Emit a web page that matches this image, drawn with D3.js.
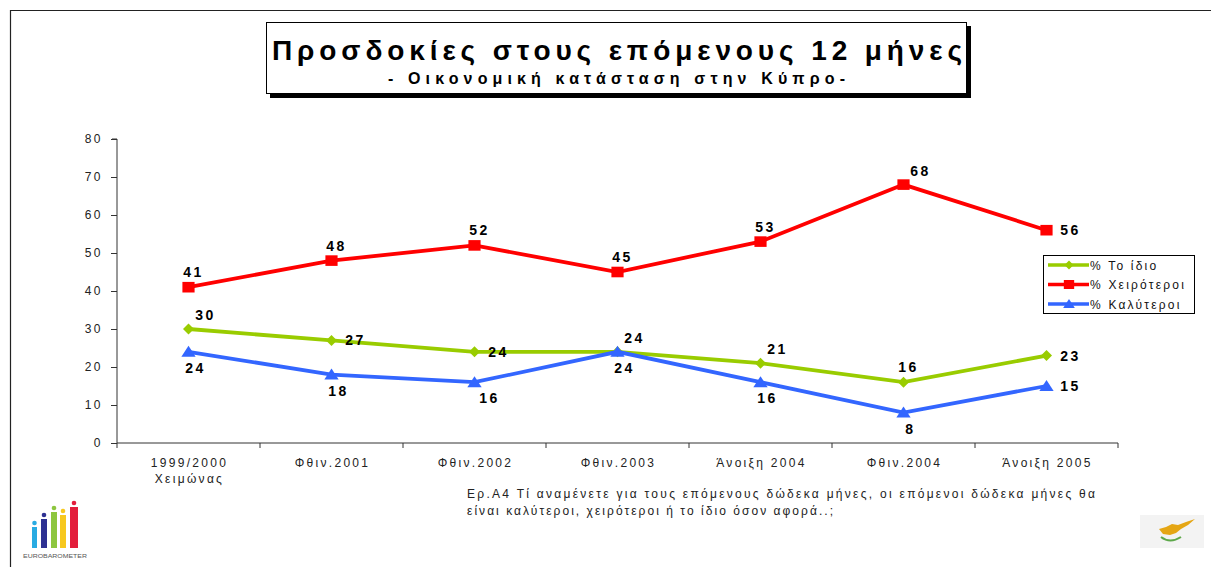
<!DOCTYPE html>
<html>
<head>
<meta charset="utf-8">
<script src="https://cdn.jsdelivr.net/npm/d3@7"></script>
<style>
  body { margin: 0; background: #fff; }
  svg { font-family: "Liberation Sans", Arial, sans-serif; }
</style>
</head>
<body>
<svg id="chart" width="1211" height="567"></svg>
<script>
var categories = ["1999/2000|Χειμώνας", "Φθιν.2001", "Φθιν.2002", "Φθιν.2003", "Άνοιξη 2004", "Φθιν.2004", "Άνοιξη 2005"];
var yTicks = [0, 10, 20, 30, 40, 50, 60, 70, 80];

var sameValues = [30, 27, 24, 24, 21, 16, 23];
var worseValues = [41, 48, 52, 45, 53, 68, 56];
var betterValues = [24, 18, 16, 24, 16, 8, 15];

var seriesNames = ["% Το ίδιο", "% Χειρότεροι", "% Καλύτεροι"];

// where each value label sits next to its point
var sameLabelPos = ["aboveRight", "right", "right", "aboveRight", "aboveRight", "above", "right"];
var worseLabelPos = ["above", "above", "above", "above", "above", "aboveRight", "right"];
var betterLabelPos = ["below", "below", "belowRight", "below", "below", "below", "right"];

var svg = d3.select("#chart");

// outer frame
svg.append("path")
    .attr("d", "M10.5,567 L10.5,10.5 L1211,10.5")
    .attr("fill", "none")
    .attr("stroke", "#222")
    .attr("stroke-width", 1.2);

// title box with shadow
svg.append("rect").attr("x", 270).attr("y", 26).attr("width", 701).attr("height", 72).attr("fill", "#000");
svg.append("rect").attr("x", 266.5).attr("y", 22.5).attr("width", 700).attr("height", 71)
    .attr("fill", "#fff").attr("stroke", "#000").attr("stroke-width", 1);
svg.append("text")
    .attr("x", 272).attr("y", 60)
    .attr("textLength", 690).attr("lengthAdjust", "spacing")
    .attr("font-size", 28).attr("font-weight", "bold")
    .text("Προσδοκίες στους επόμενους 12 μήνες");
svg.append("text")
    .attr("x", 388).attr("y", 84)
    .attr("textLength", 457).attr("lengthAdjust", "spacing")
    .attr("font-size", 16).attr("font-weight", "bold")
    .text("- Οικονομική κατάσταση στην Κύπρο-");

var plotLeft = 117, plotRight = 1118, plotTop = 139, plotBottom = 443;

var x = d3.scaleBand().domain(categories).range([plotLeft, plotRight]);
var y = d3.scaleLinear().domain([0, 80]).range([plotBottom, plotTop]);
var cx = function(i) { return x(categories[i]) + x.bandwidth() / 2; };

// y axis
var yAxis = svg.append("g")
    .attr("transform", "translate(" + plotLeft + ",0)")
    .call(d3.axisLeft(y).tickValues(yTicks).tickSize(6).tickPadding(8));
yAxis.select(".domain").attr("stroke", "#333").attr("d", "M-5," + plotTop + "H0V" + plotBottom);
yAxis.selectAll(".tick line").attr("stroke", "#333");
yAxis.selectAll("text")
    .attr("font-size", 12).attr("fill", "#222")
    .attr("font-family", "Liberation Sans, Arial, sans-serif")
    .style("letter-spacing", "2.5px");

// x axis
var xAxis = svg.append("g")
    .attr("transform", "translate(0," + plotBottom + ")")
    .call(d3.axisBottom(x).tickSize(0).tickFormat(""));
xAxis.select(".domain").attr("stroke", "#333").attr("d", "M" + plotLeft + ",5V0H" + plotRight + "V5");
xAxis.selectAll(".tick line").remove();
xAxis.selectAll(".sep")
    .data(categories.slice(1))
    .enter().append("line")
    .attr("x1", function(d) { return x(d); })
    .attr("x2", function(d) { return x(d); })
    .attr("y1", 0).attr("y2", 5)
    .attr("stroke", "#333");

categories.forEach(function(c, i) {
    var lines = c.split("|");
    var t = svg.append("text")
        .attr("x", cx(i)).attr("y", plotBottom + 24)
        .attr("text-anchor", "middle")
        .attr("font-size", 12).attr("fill", "#222")
        .style("letter-spacing", "2.3px");
    lines.forEach(function(l, j) {
        t.append("tspan").attr("x", cx(i) + 1).attr("dy", j == 0 ? 0 : 16).text(l);
    });
});

// marker shapes (drawn around 0,0)
var markerPaths = {
    diamond: function(s) { return "M0," + (-s) + "L" + s + ",0L0," + s + "L" + (-s) + ",0Z"; },
    square: function(s) { return "M" + (-s * 1.15) + "," + (-s) + "H" + (s * 1.15) + "V" + s + "H" + (-s * 1.15) + "Z"; },
    triangle: function(s) { return "M0," + (-s * 1.1) + "L" + (s * 1.3) + "," + (s * 0.9) + "H" + (-s * 1.3) + "Z"; }
};

var series = [
    { name: seriesNames[1], values: worseValues, pos: worseLabelPos, color: "#FF0000", marker: "square", size: 5.3 },
    { name: seriesNames[0], values: sameValues, pos: sameLabelPos, color: "#99CC00", marker: "diamond", size: 5.5 },
    { name: seriesNames[2], values: betterValues, pos: betterLabelPos, color: "#3366FF", marker: "triangle", size: 5.5 }
];

var line = d3.line()
    .x(function(d, i) { return cx(i); })
    .y(function(d) { return y(d); });

var offsets = {
    above: [5, -10],
    aboveRight: [17, -9],
    right: [24, 5],
    below: [7, 21],
    belowRight: [15, 21]
};

series.forEach(function(s) {
    svg.append("path")
        .datum(s.values)
        .attr("d", line)
        .attr("fill", "none")
        .attr("stroke", s.color)
        .attr("stroke-width", 3.8);

    svg.selectAll(null)
        .data(s.values)
        .enter().append("path")
        .attr("d", markerPaths[s.marker](s.size))
        .attr("transform", function(d, i) { return "translate(" + cx(i) + "," + y(d) + ")"; })
        .attr("fill", s.color);
});

series.forEach(function(s) {
    svg.selectAll(null)
        .data(s.values)
        .enter().append("text")
        .attr("x", function(d, i) { return cx(i) + offsets[s.pos[i]][0]; })
        .attr("y", function(d, i) { return y(d) + offsets[s.pos[i]][1]; })
        .attr("text-anchor", "middle")
        .attr("font-size", 14).attr("font-weight", "bold")
        .style("letter-spacing", "2.5px")
        .text(function(d) { return d; });
});

// legend
var legend = svg.append("g").attr("transform", "translate(1043,255)");
legend.append("rect")
    .attr("x", 0.5).attr("y", 0.5).attr("width", 151).attr("height", 58)
    .attr("fill", "#fff").attr("stroke", "#000");
var legendOrder = [series[1], series[0], series[2]];
legendOrder.forEach(function(s, i) {
    var ly = 10 + i * 19.5;
    legend.append("line")
        .attr("x1", 5).attr("x2", 46).attr("y1", ly).attr("y2", ly)
        .attr("stroke", s.color).attr("stroke-width", 3.5);
    legend.append("path")
        .attr("d", markerPaths[s.marker](4.5))
        .attr("transform", "translate(26," + ly + ")")
        .attr("fill", s.color);
    legend.append("text")
        .attr("x", 47).attr("y", ly + 4.5)
        .attr("font-size", 12).attr("fill", "#111")
        .style("letter-spacing", "2.2px")
        .text(s.name);
});

// question note
svg.append("text")
    .attr("x", 467).attr("y", 498)
    .attr("textLength", 628).attr("lengthAdjust", "spacing")
    .attr("font-size", 12).attr("fill", "#222")
    .text("Ερ.Α4 Τί αναμένετε για τους επόμενους δώδεκα μήνες, οι επόμενοι δώδεκα μήνες θα");
svg.append("text")
    .attr("x", 467).attr("y", 515)
    .attr("textLength", 366).attr("lengthAdjust", "spacing")
    .attr("font-size", 12).attr("fill", "#222")
    .text("είναι καλύτεροι, χειρότεροι ή το ίδιο όσον αφορά..;");

// eurobarometer logo
var logoColors = ["#29ABE2", "#2E3192", "#8DC63F", "#F7C81E", "#E31E3C"];
var logoTops = [527, 519, 512, 515, 507];
var logoX = [32, 41, 51, 60, 70];
var logoW = [5, 6, 6, 6, 8];
var logo = svg.append("g");
logoColors.forEach(function(c, i) {
    logo.append("rect")
        .attr("x", logoX[i]).attr("y", logoTops[i]).attr("width", logoW[i]).attr("height", 548 - logoTops[i])
        .attr("fill", c);
    logo.append("circle")
        .attr("cx", logoX[i] + logoW[i] / 2).attr("cy", logoTops[i] - 4).attr("r", 2.3)
        .attr("fill", c);
});
logo.append("text")
    .attr("x", 23).attr("y", 558)
    .attr("textLength", 64).attr("lengthAdjust", "spacingAndGlyphs")
    .attr("font-size", 4.5).attr("fill", "#555")
    .text("EUROBAROMETER");

// cyprus flag
var flag = svg.append("g");
flag.append("rect").attr("x", 1140).attr("y", 515).attr("width", 64).attr("height", 33).attr("fill", "#f3f3f3");
flag.append("path")
    .attr("d", "M1159,529 L1166,527 L1172,524 L1178,525 L1186,522 L1195,519 L1188,525 L1181,529 L1176,533 L1170,535 L1163,534 Z")
    .attr("fill", "#E5A614");
flag.append("path")
    .attr("d", "M1161,537 Q1170,544 1181,537")
    .attr("fill", "none").attr("stroke", "#5DA84A").attr("stroke-width", 2);
</script>
</body>
</html>
